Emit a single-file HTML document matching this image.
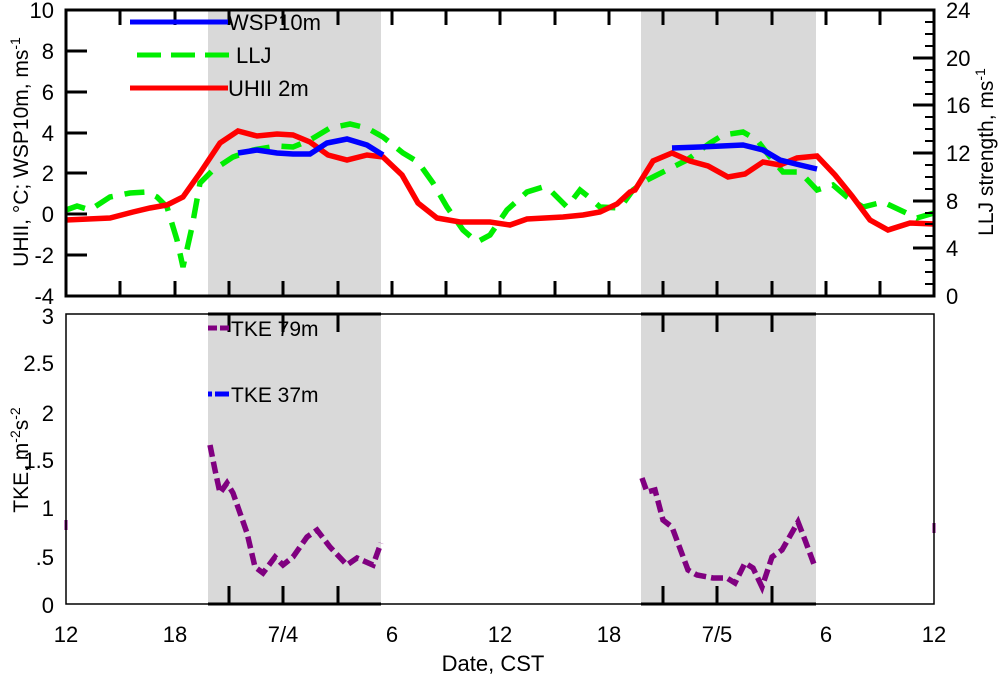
<!DOCTYPE html>
<html><head><meta charset="utf-8"><style>
body{margin:0;background:#fff}
svg{display:block;font-family:"Liberation Sans",sans-serif}
</style></head><body>
<svg width="1000" height="677" viewBox="0 0 1000 677">
<rect x="208" y="10" width="173" height="286" fill="#d9d9d9"/>
<rect x="641" y="10" width="175" height="286" fill="#d9d9d9"/>
<rect x="208" y="314" width="173" height="290" fill="#d9d9d9"/>
<rect x="641" y="314" width="175" height="290" fill="#d9d9d9"/>

<polyline fill="none" stroke="#00ee00" stroke-width="5.5" stroke-dasharray="20,12" points="66,210 77,206 90,210 110,197 130,193 147,192 157,197 167,207 177,240 183,267 192,227 200,183 213,170 233,157 253,150 277,146 293,147 310,140 330,128 350,124 367,128 383,137 403,153 418,162 433,183 447,207 463,230 477,242 490,235 507,210 527,192 543,187 550,190 567,207 580,190 590,198 600,207 620,208 633,190 647,180 667,170 687,160 710,143 723,135 743,132 757,140 770,157 783,172 800,172 817,190 833,185 847,197 863,207 883,202 900,210 917,218 934,213"/>
<polyline fill="none" stroke="#ff0000" stroke-width="5.5" points="66,220 110,218 133,212 150,208 167,205 183,197 200,173 220,143 238,131 257,136 277,134 293,135 310,142 328,155 347,160 367,155 383,157 402,175 418,203 437,218 460,222 490,222 510,225 527,219 563,217 583,215 600,212 617,204 630,192 635,190 653,161 672,153 690,161 708,166 728,177 745,174 763,162 780,165 797,158 817,156 835,175 852,196 870,220 888,230 910,223 934,224"/>
<polyline fill="none" stroke="#0000ff" stroke-width="5.5" points="238,153 257,150 277,153 293,154 310,154 327,143 347,139 367,145 383,155"/>
<polyline fill="none" stroke="#0000ff" stroke-width="5.5" points="672,148 700,147 743,145 763,150 780,160 800,165 817,169"/>

<rect x="66" y="10" width="868" height="286" fill="none" stroke="#000" stroke-width="3"/>
<g stroke="#000" stroke-width="3">
<path d="M120,296V281M175,296V281M229,296V281M283,296V281M338,296V281M392,296V281M446,296V281M500,296V281M555,296V281M609,296V281M663,296V281M717,296V281M772,296V281M826,296V281M880,296V281"/>
<path d="M120,10V25M175,10V25M229,10V25M283,10V25M338,10V25M392,10V25M446,10V25M500,10V25M555,10V25M609,10V25M663,10V25M717,10V25M772,10V25M826,10V25M880,10V25"/>
<path d="M66,51H87M66,92H87M66,133H87M66,173H87M66,214H87M66,255H87"/>
<path d="M934,248H913M934,201H913M934,153H913M934,105H913M934,58H913"/>
</g>
<g stroke="#000" stroke-width="2">
<path d="M934,284H925M934,272H925M934,260H925M934,236H925M934,224H925M934,213H925M934,189H925M934,177H925M934,165H925M934,141H925M934,129H925M934,117H925M934,94H925M934,82H925M934,70H925M934,46H925M934,34H925M934,22H925"/>
</g>

<polyline fill="none" stroke="#800080" stroke-width="5.5" stroke-dasharray="12,5" points="210,445 215,470 220,493 227,483 233,493 247,533 255,567 263,573 275,557 283,565 293,557 307,537 317,530 330,547 347,565 357,558 373,565 381,543"/>
<polyline fill="none" stroke="#800080" stroke-width="5.5" stroke-dasharray="12,5" points="642,478 647,492 655,490 663,520 672,527 688,570 697,575 713,578 727,578 735,583 745,563 753,568 762,587 772,557 782,550 798,522 805,540 815,567"/>
<path d="M66,520V530M934,523V533" stroke="#800080" stroke-width="3"/>

<rect x="66" y="314" width="868" height="290" fill="none" stroke="#000" stroke-width="1.5"/>
<g stroke="#000" stroke-width="3">
<path d="M208,314H381M641,314H816M208,604H381M641,604H816"/>
<path d="M229,314V332M283,314V332M338,314V332M663,314V332M717,314V332M772,314V332"/>
<path d="M229,604V586M283,604V586M338,604V586M663,604V586M717,604V586M772,604V586"/>
</g>

<line x1="130" y1="22" x2="228" y2="22" stroke="#0000ff" stroke-width="5"/>
<text x="228" y="30" font-size="22">WSP10m</text>
<line x1="137" y1="55" x2="233" y2="55" stroke="#00ee00" stroke-width="5" stroke-dasharray="24,10"/>
<text x="236" y="63" font-size="22">LLJ</text>
<line x1="130" y1="88" x2="228" y2="88" stroke="#ff0000" stroke-width="5"/>
<text x="228" y="96" font-size="22">UHII 2m</text>
<line x1="208" y1="328" x2="229" y2="328" stroke="#800080" stroke-width="5" stroke-dasharray="9,3"/>
<text x="231" y="336" font-size="21">TKE 79m</text>
<line x1="208" y1="394" x2="229" y2="394" stroke="#0000ff" stroke-width="5" stroke-dasharray="4,3,14,0"/>
<text x="231" y="402" font-size="21">TKE 37m</text>

<g font-size="22" text-anchor="end">
<text x="54" y="18">10</text><text x="54" y="59">8</text><text x="54" y="100">6</text><text x="54" y="141">4</text><text x="54" y="181">2</text><text x="54" y="222">0</text><text x="54" y="263">-2</text><text x="54" y="304">-4</text>
<text x="54" y="324">3</text><text x="54" y="371">2.5</text><text x="54" y="421">2</text><text x="54" y="468">1.5</text><text x="54" y="516">1</text><text x="54" y="565">.5</text><text x="54" y="613">0</text>
</g>
<g font-size="22">
<text x="946" y="18">24</text><text x="946" y="66">20</text><text x="946" y="113">16</text><text x="946" y="161">12</text><text x="946" y="209">8</text><text x="946" y="256">4</text><text x="946" y="304">0</text>
</g>
<g font-size="22" text-anchor="middle">
<text x="66" y="642">12</text><text x="175" y="642">18</text><text x="283" y="642">7/4</text><text x="392" y="642">6</text><text x="500" y="642">12</text><text x="609" y="642">18</text><text x="717" y="642">7/5</text><text x="826" y="642">6</text><text x="934" y="642">12</text>
<text x="493" y="671">Date, CST</text>
</g>
<text transform="translate(28,152) rotate(-90)" font-size="21" text-anchor="middle">UHII, °C; WSP10m, ms<tspan font-size="14" dy="-8">-1</tspan></text>
<text transform="translate(993,152) rotate(-90)" font-size="21" text-anchor="middle">LLJ strength, ms<tspan font-size="14" dy="-8">-1</tspan></text>
<text transform="translate(28,460) rotate(-90)" font-size="21" text-anchor="middle">TKE, m<tspan font-size="14" dy="-8">-2</tspan><tspan dy="8">s</tspan><tspan font-size="14" dy="-8">-2</tspan></text>
</svg>
</body></html>
